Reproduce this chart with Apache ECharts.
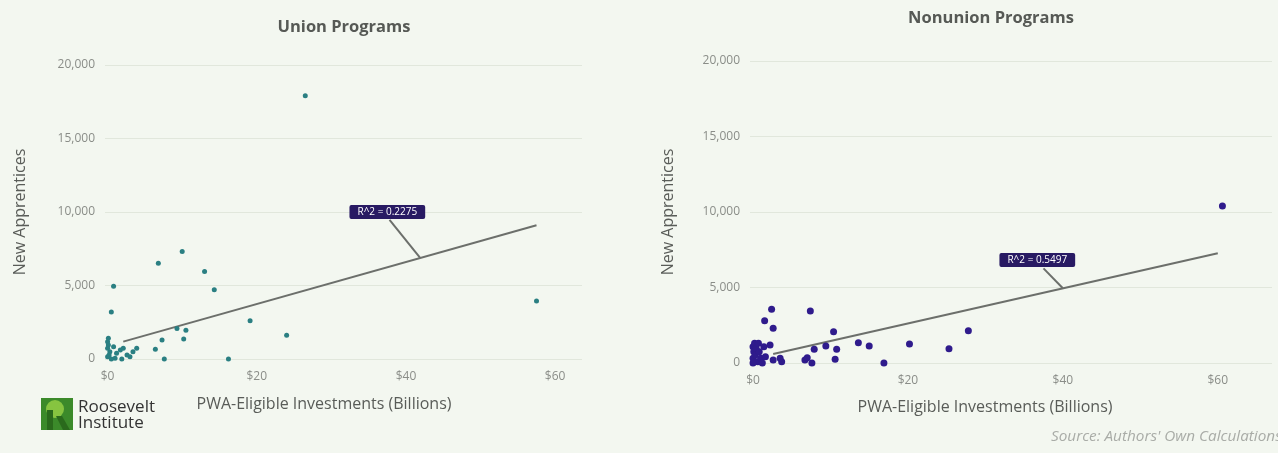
<!DOCTYPE html>
<html>
<head>
<meta charset="utf-8">
<title>New Apprentices vs PWA-Eligible Investments</title>
<script src="https://cdn.jsdelivr.net/npm/echarts@6/dist/echarts.min.js"></script>
<style>
  html, body { margin: 0; padding: 0; background: #f3f7f0; }
  #chart { width: 1278px; height: 453px; }
</style>
</head>
<body>
<div id="chart"></div>
<script>
// PWA-eligible investment ($ billions) vs new apprentices, per state
const unionPoints = [
  [26.5, 17900], [57.5, 3950], [0.8, 4950], [0.5, 3190], [6.8, 6520],
  [10.0, 7320], [13.0, 5960], [14.3, 4710], [19.1, 2600], [24.0, 1610],
  [16.2, 0], [7.6, 0], [6.4, 660], [7.3, 1290], [10.2, 1360],
  [10.5, 1950], [9.3, 2070],
  [0, 1180], [0.1, 1410], [0, 730], [0.3, 500], [0, 160], [0.8, 840],
  [1.2, 390], [1.7, 610], [1.0, 50], [2.1, 730], [2.6, 270], [3.0, 160],
  [3.4, 500], [3.9, 730], [0.5, 0], [1.9, 0], [0.1, 950], [0.2, 280]
];
const nonunionPoints = [
  [60.6, 10400], [27.8, 2140], [25.3, 950], [20.2, 1260], [16.9, 0],
  [15.0, 1130], [13.6, 1340], [10.4, 2070], [10.8, 910], [10.6, 250],
  [9.4, 1130], [7.9, 910], [7.4, 3440], [7.6, 0], [6.7, 200], [7.0, 350],
  [2.4, 3560], [1.5, 2800], [2.6, 2300], [2.2, 1190], [3.7, 90], [3.5, 310],
  [2.6, 200], [0, 1080], [0.1, 750], [0, 310], [0.2, 1300], [0.4, 970],
  [0.3, 530], [0.6, 90], [0.8, 750], [1.0, 310], [1.2, 0], [0, 0],
  [0.7, 1300], [1.6, 420], [1.4, 1080]
];

// trend lines and R^2 callouts
const unionTrend = [[2.1, 1180], [57.5, 9100]];
const nonunionTrend = [[2.6, 600], [60.0, 7265]];
const unionCallout = [37.5, 10000];
const nonunionCallout = [36.7, 6820];
const unionLeader = [[37.8, 9460], [41.9, 6880]];
const nonunionLeader = [[37.5, 6270], [40.0, 4950]];
const unionR2 = 'R^2 = 0.2275';
const nonunionR2 = 'R^2 = 0.5497';

const xTicks = [0, 20, 40, 60];
const yTicks = [0, 5000, 10000, 15000, 20000];

const font = '"Open Sans", Lato, sans-serif';
const labelGrey = '#8a8d88';
const nameGrey = '#595c58';

function xAxisFor(gridIndex, min, max, gap, pad) {
  return {
    gridIndex: gridIndex,
    type: 'value',
    min: min,
    max: max,
    axisLine: { show: false },
    axisTick: { show: false },
    splitLine: { show: false },
    axisLabel: {
      customValues: xTicks,
      formatter: v => '$' + v,
      color: labelGrey,
      fontFamily: font,
      fontSize: 12,
      margin: 12
    },
    name: 'PWA-Eligible Investments (Billions)',
    nameLocation: 'middle',
    nameGap: gap,
    nameTextStyle: {
      color: nameGrey,
      fontFamily: font,
      fontSize: 16,
      fontWeight: 500,
      padding: pad
    }
  };
}

function yAxisFor(gridIndex, gap) {
  return {
    gridIndex: gridIndex,
    type: 'value',
    min: yTicks[0],
    max: yTicks[yTicks.length - 1],
    interval: 5000,
    axisLine: { show: false },
    axisTick: { show: false },
    splitLine: { lineStyle: { color: '#e1e7dc', width: 1 } },
    axisLabel: {
      formatter: v => v.toLocaleString('en-US'),
      color: labelGrey,
      fontFamily: font,
      fontSize: 12,
      margin: 10
    },
    name: 'New Apprentices',
    nameLocation: 'middle',
    nameGap: gap,
    nameTextStyle: { color: nameGrey, fontFamily: font, fontSize: 16, fontWeight: 500 }
  };
}

function calloutSeries(idx, pos, text) {
  return {
    type: 'scatter',
    xAxisIndex: idx,
    yAxisIndex: idx,
    symbolSize: 0,
    silent: true,
    z: 5,
    data: [pos],
    itemStyle: { opacity: 1 },
    label: {
      show: true,
      position: 'inside',
      formatter: text,
      color: '#ffffff',
      backgroundColor: '#281a63',
      fontFamily: font,
      fontSize: 10,
      padding: [2, 8],
      borderRadius: 2
    }
  };
}

function lineSeries(idx, data) {
  return {
    type: 'line',
    xAxisIndex: idx,
    yAxisIndex: idx,
    data: data,
    symbol: 'none',
    silent: true,
    lineStyle: { color: '#6c6f6b', width: 2 },
    z: 3
  };
}

const chart = echarts.init(document.getElementById('chart'));
chart.setOption({
  backgroundColor: '#f3f7f0',
  animation: false,
  title: [
    {
      text: 'Union Programs', left: 339, top: 14, textAlign: 'center',
      textStyle: { fontFamily: font, fontSize: 16.5, fontWeight: 'bold', color: '#565955' }
    },
    {
      text: 'Nonunion Programs', left: 986, top: 5, textAlign: 'center',
      textStyle: { fontFamily: font, fontSize: 16.5, fontWeight: 'bold', color: '#565955' }
    }
  ],
  grid: [
    { left: 105, top: 65, width: 477, height: 294, outerBoundsMode: 'none' },
    { left: 750, top: 61, width: 522, height: 302, outerBoundsMode: 'none' }
  ],
  xAxis: [
    xAxisFor(0, -0.35, 63.6, 37, [0, 39, 0, 0]),
    xAxisFor(1, -0.39, 67.0, 36, [0, 52, 0, 0])
  ],
  yAxis: [yAxisFor(0, 77), yAxisFor(1, 74)],
  series: [
    {
      type: 'scatter', xAxisIndex: 0, yAxisIndex: 0,
      data: unionPoints, symbolSize: 5,
      itemStyle: { color: '#2a7f82', opacity: 1 }, z: 4
    },
    {
      type: 'scatter', xAxisIndex: 1, yAxisIndex: 1,
      data: nonunionPoints, symbolSize: 7,
      itemStyle: { color: '#2f1b8c', opacity: 1 }, z: 4
    },
    lineSeries(0, unionTrend),
    lineSeries(1, nonunionTrend),
    lineSeries(0, unionLeader),
    lineSeries(1, nonunionLeader),
    calloutSeries(0, unionCallout, unionR2),
    calloutSeries(1, nonunionCallout, nonunionR2)
  ],
  graphic: [
    // Roosevelt Institute logo
    { type: 'rect', left: 41, top: 398, shape: { width: 32, height: 32 }, style: { fill: '#3b8a2a' } },
    { type: 'circle', shape: { cx: 55, cy: 409, r: 9 }, style: { fill: '#86c440' } },
    { type: 'rect', left: 47, top: 410, shape: { width: 6, height: 20 }, style: { fill: '#2a6a1c' } },
    { type: 'polygon', shape: { points: [[56, 416], [62, 416], [70, 430], [63, 430]] }, style: { fill: '#2a6a1c' } },
    {
      type: 'text', x: 78, y: 407,
      style: { text: 'Roosevelt', fill: '#333333', font: '500 17px ' + font, verticalAlign: 'middle' }
    },
    {
      type: 'text', x: 78, y: 423,
      style: { text: 'Institute', fill: '#333333', font: '500 17px ' + font, verticalAlign: 'middle' }
    },
    {
      type: 'text', x: 1051, y: 437,
      style: { text: "Source: Authors' Own Calculations", fill: '#a9aca7', font: 'italic 15.3px ' + font, verticalAlign: 'middle' }
    }
  ]
});
</script>
</body>
</html>
